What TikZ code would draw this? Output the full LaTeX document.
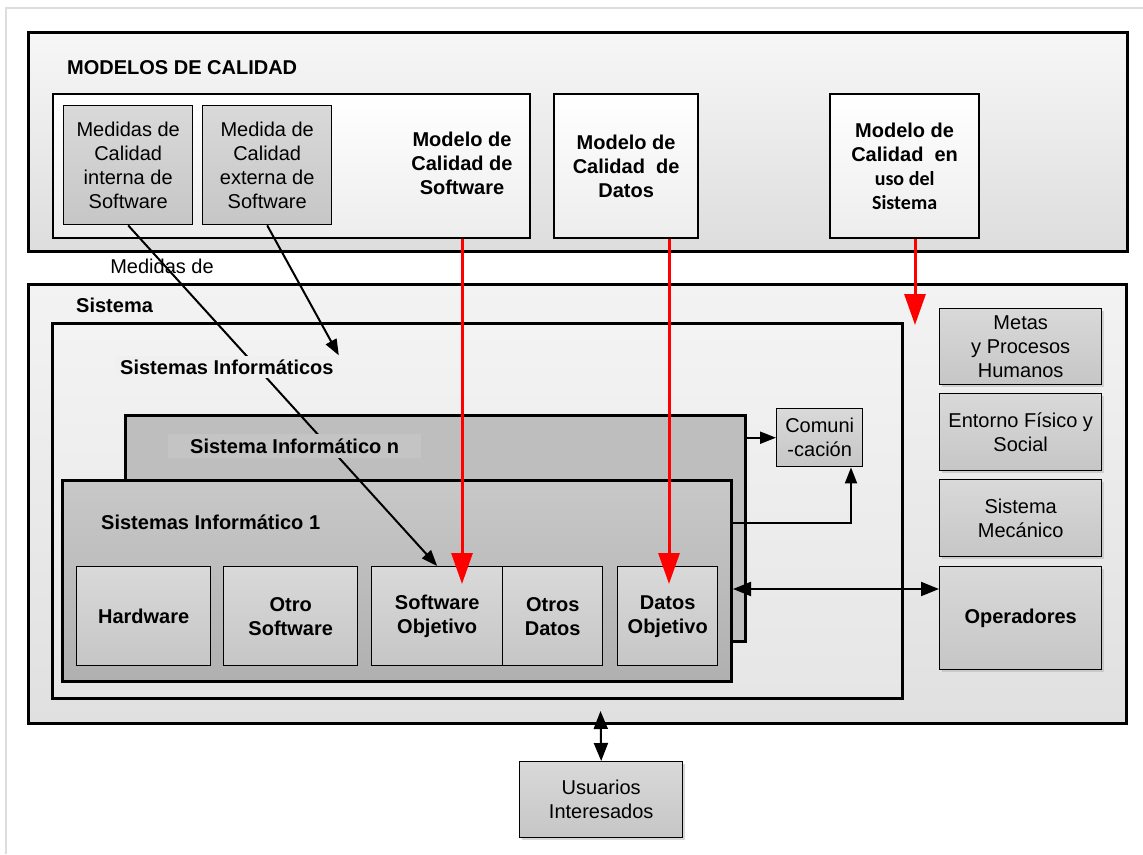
\documentclass[tikz,border=0pt]{standalone}
\usepackage{fontspec}
\setmainfont{Liberation Sans}
\newfontfamily\calib{Carlito}
\usetikzlibrary{arrows.meta,calc,shadows}
\definecolor{topA}{HTML}{F7F7F7}
\definecolor{topB}{HTML}{DDDDDD}
\definecolor{whA}{HTML}{FFFFFF}
\definecolor{whB}{HTML}{EDEDED}
\definecolor{grA}{HTML}{D9D9D9}
\definecolor{grB}{HTML}{C6C6C6}
\definecolor{sysA}{HTML}{F3F3F3}
\definecolor{sysB}{HTML}{E0E0E0}
\definecolor{siA}{HTML}{F3F3F3}
\definecolor{siB}{HTML}{E6E6E6}
\definecolor{nfill}{HTML}{BEBEBE}
\definecolor{oneA}{HTML}{C8C8C8}
\definecolor{oneB}{HTML}{B0B0B0}
\definecolor{silbg}{HTML}{F0F0F0}
\definecolor{nlbg}{HTML}{C4C4C4}
\definecolor{framec}{HTML}{DDDDDD}
\begin{document}
\begin{tikzpicture}[x=1pt,y=-1pt,
  font=\fontsize{20}{24}\selectfont,
  bx/.style={rectangle, draw=black, anchor=north west, inner sep=0pt, align=center},
  heavy/.style={bx, line width=3pt},
  mid/.style={bx, line width=2.2pt},
  thin/.style={bx, line width=1.4pt},
  topgrad/.style={top color=topA, bottom color=topB},
  whgrad/.style={top color=whA, bottom color=whB},
  grgrad/.style={top color=grA, bottom color=grB},
  sysgrad/.style={top color=sysA, bottom color=sysB},
  sigrad/.style={top color=siA, bottom color=siB},
  onegrad/.style={top color=oneA, bottom color=oneB},
  shad/.style={drop shadow={shadow xshift=2.5pt, shadow yshift=-2.5pt, fill=black!30, opacity=0.5}},
  bf/.style={font=\fontsize{20}{24}\selectfont\bfseries},
  conn/.style={line width=2pt, -{Triangle[length=16pt,width=12pt]}},
  dconn/.style={line width=2pt, {Triangle[length=18pt,width=14pt]}-{Triangle[length=18pt,width=14pt]}},
  redarr/.style={draw=red, line width=3pt, -{Triangle[length=31pt,width=21pt]}}
]
\useasboundingbox (0,0) rectangle (1143,854);
\draw[framec, line width=2pt] (6,854) -- (6,8) -- (1143,8);

% ---- Modelos de calidad
\node[heavy, topgrad, minimum width=1099pt, minimum height=219pt] (top) at (27,31) {};
\node[bf, anchor=west, inner sep=0pt] (mtitle) at (67,68) {MODELOS DE CALIDAD};
\node[mid, whgrad, minimum width=477pt, minimum height=144pt] (swm) at (52,93) {};
\node[thin, grgrad, minimum width=129pt, minimum height=119pt] (int) at (63,105) {Medidas de\\Calidad\\interna de\\Software};
\node[thin, grgrad, minimum width=129pt, minimum height=119pt] (ext) at (202,105) {Medida de\\Calidad\\externa de\\Software};
\node[bf, align=center] (swmt) at (462,163) {Modelo de\\Calidad de\\Software};
\node[mid, whgrad, bf, minimum width=144pt, minimum height=144pt] (datm) at (553,93) {Modelo de\\Calidad~ de\\Datos};
\node[mid, whgrad, bf, minimum width=149pt, minimum height=144pt] (uso) at (829,93) {Modelo de\\Calidad~ en\\{\calib uso del}\\{\calib Sistema}};

% ---- Sistema
\node[heavy, sysgrad, minimum width=1098pt, minimum height=439pt] (sist) at (27,283) {};
\node[bf, anchor=west, inner sep=0pt] (sistlbl) at (76,305) {Sistema};
\node[heavy, sigrad, minimum width=850pt, minimum height=375pt] (sis) at (51,322) {};
\node[heavy, fill=nfill, minimum width=620pt, minimum height=226pt] (n) at (124,414) {};
\node[heavy, onegrad, minimum width=669pt, minimum height=201pt] (one) at (61,479) {};
\node[bf, anchor=west, inner sep=0pt] (onelbl) at (101,522) {Sistemas Informático 1};

\node[thin, grgrad, bf, minimum width=134pt, minimum height=99pt] (hw) at (76,566) {Hardware};
\node[thin, grgrad, bf, minimum width=134pt, minimum height=99pt] (otro) at (223,566) {Otro\\Software};
\node[thin, grgrad, bf, minimum width=131pt, minimum height=99pt] (swobj) at (371,566) {Software\\Objetivo};
\node[thin, grgrad, bf, minimum width=100pt, minimum height=99pt] (otd) at (502,566) {Otros\\Datos};
\node[thin, grgrad, bf, minimum width=100pt, minimum height=99pt] (dato) at (617,566) {Datos\\Objetivo};

\node[thin, grgrad, minimum width=86pt, minimum height=58pt] (com) at (776,408) {Comuni\\-cación};

\node[thin, grgrad, shad, minimum width=162pt, minimum height=76pt] (metas) at (939,308) {Metas\\y Procesos\\Humanos};
\node[thin, grgrad, shad, minimum width=162pt, minimum height=77pt] (ent) at (939,393) {Entorno Físico y\\Social};
\node[thin, grgrad, shad, minimum width=162pt, minimum height=77pt] (mec) at (939,479) {Sistema\\Mecánico};
\node[thin, grgrad, shad, bf, minimum width=162pt, minimum height=103pt] (oper) at (939,566) {Operadores};

\node[thin, grgrad, shad, minimum width=163pt, minimum height=76pt] (usu) at (519,761) {Usuarios\\Interesados};

% ---- text labels over lines
\node (medlbl) at (162,266) {Medidas de};

% ---- connectors
\node[bf, anchor=west, fill=silbg, inner xsep=5pt, inner ysep=4pt] (silbl) at (115,367) {\phantom{Sistemas Informáticos}};
\draw[conn] (int.south) -- (swobj.north);
\draw[conn] (ext.south) -- (silbl.north east);
\node[bf, anchor=west, fill=silbg, inner xsep=5pt, inner ysep=4pt] (silbltext) at (115,367) {Sistemas Informáticos};
\node[bf, anchor=west, fill=nlbg, inner xsep=22pt, inner ysep=5pt] (nlbl) at (168,446) {Sistema Informático n};

\coordinate (r1) at (462,584);
\coordinate (r2) at (669,584);
\coordinate (r3) at (915,325);
\draw[redarr] (swm.south -| r1) -- (r1);
\draw[redarr] (datm.south -| r2) -- (r2);
\draw[redarr] (uso.south -| r3) -- (r3);

\coordinate (c1) at (851,523);
\coordinate (c2) at (939,589);
\coordinate (u1) at (600.5,711);
\draw[conn] (n.east |- com.west) -- (com.west);
\draw[conn] (one.east |- c1) -| (c1 |- com.south);
\draw[dconn] (one.east |- c2) -- (oper.west |- c2);
\draw[dconn] (u1) -- (usu.north);
\end{tikzpicture}
\end{document}
